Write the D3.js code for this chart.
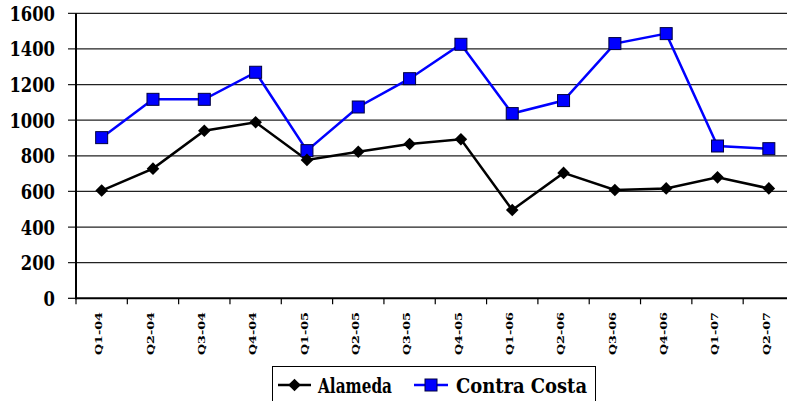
<!DOCTYPE html>
<html>
<head>
<meta charset="utf-8">
<script src="https://cdn.jsdelivr.net/npm/d3@7/dist/d3.min.js"></script>
<style>
  html, body { margin: 0; padding: 0; background: #fff; }
  svg { display: block; }
</style>
</head>
<body>
<svg id="chart" width="787" height="401"></svg>
<script>
const categories = ["Q1-04","Q2-04","Q3-04","Q4-04","Q1-05","Q2-05","Q3-05","Q4-05","Q1-06","Q2-06","Q3-06","Q4-06","Q1-07","Q2-07"];
const alameda = [605, 728, 941, 988, 777, 823, 866, 893, 496, 704, 608, 617, 679, 617];
const contraCosta = [902, 1117, 1117, 1269, 829, 1074, 1233, 1426, 1037, 1110, 1430, 1486, 855, 840];
const yTicks = [0, 200, 400, 600, 800, 1000, 1200, 1400, 1600];
const seriesNames = ["Alameda", "Contra Costa"];

(function () {
const FONT = "DejaVu Serif";
const svg = d3.select("#chart");
const pLeft = 76, pRight = 794.5, pTop = 13.3, pBottom = 298.3;

const x = d3.scaleBand().domain(categories).range([pLeft, pRight]).padding(0);
const y = d3.scaleLinear().domain([0, 1600]).range([pBottom, pTop]);

svg.append("g").selectAll("line").data(yTicks.filter(d => d > 0)).join("line")
  .attr("x1", pLeft - 8).attr("x2", 787)
  .attr("y1", d => y(d)).attr("y2", d => y(d))
  .attr("stroke", "#222").attr("stroke-width", 1.2);

svg.append("g").selectAll("text").data(yTicks).join("text")
  .attr("x", 55).attr("y", d => y(d) + 7.5)
  .attr("text-anchor", "end")
  .attr("textLength", d => String(d).length * 11.4).attr("lengthAdjust", "spacingAndGlyphs")
  .style("font-family", FONT).style("font-weight", "bold").style("font-size", "21px")
  .text(d => d);

svg.append("line").attr("x1", pLeft - 8).attr("x2", pLeft).attr("y1", y(0)).attr("y2", y(0))
  .attr("stroke", "#000").attr("stroke-width", 1.2);

const bounds = categories.map(c => x(c)).concat([x(categories[categories.length-1]) + x.bandwidth()]);
svg.append("g").selectAll("line").data(bounds).join("line")
  .attr("x1", d => d).attr("x2", d => d)
  .attr("y1", pBottom).attr("y2", pBottom + 6)
  .attr("stroke", "#000").attr("stroke-width", 1.2);

svg.append("line").attr("x1", pLeft).attr("x2", pLeft).attr("y1", pTop).attr("y2", pBottom + 1)
  .attr("stroke", "#000").attr("stroke-width", 2);
svg.append("line").attr("x1", pLeft - 1).attr("x2", 787).attr("y1", pBottom).attr("y2", pBottom)
  .attr("stroke", "#000").attr("stroke-width", 2);

svg.append("g").selectAll("text").data(categories).join("text")
  .attr("transform", d => `translate(${x(d) + x.bandwidth()/2 + 0.8},312) rotate(-90)`)
  .attr("text-anchor", "end")
  .attr("textLength", 43).attr("lengthAdjust", "spacingAndGlyphs")
  .style("font-family", FONT).style("font-weight", "bold").style("font-size", "10px")
  .text(d => d);

const cx = d => x(d) + x.bandwidth()/2;
const line = d3.line().x((d, i) => cx(categories[i])).y(d => y(d));

svg.append("path").datum(contraCosta).attr("d", line)
  .attr("fill", "none").attr("stroke", "#0000FF").attr("stroke-width", 2.5);
svg.append("path").datum(alameda).attr("d", line)
  .attr("fill", "none").attr("stroke", "#000").attr("stroke-width", 2.5);

const diamond = s => `M0,${-s} L${s},0 L0,${s} L${-s},0 Z`;

svg.append("g").selectAll("rect").data(contraCosta).join("rect")
  .attr("x", (d, i) => cx(categories[i]) - 6).attr("y", d => y(d) - 6)
  .attr("width", 12).attr("height", 12)
  .attr("fill", "#0000FF").attr("stroke", "#000040").attr("stroke-width", 1);

svg.append("g").selectAll("path").data(alameda).join("path")
  .attr("transform", (d, i) => `translate(${cx(categories[i])},${y(d)})`)
  .attr("d", diamond(6.3))
  .attr("fill", "#000");

const lg = svg.append("g");
lg.append("rect").attr("x", 272.5).attr("y", 366.5).attr("width", 323).attr("height", 50)
  .attr("fill", "#fff").attr("stroke", "#000").attr("stroke-width", 1);
lg.append("line").attr("x1", 278).attr("x2", 311).attr("y1", 385).attr("y2", 385)
  .attr("stroke", "#000").attr("stroke-width", 2.5);
lg.append("path").attr("transform", "translate(294.5,385)").attr("d", diamond(6.3)).attr("fill", "#000");
lg.append("text").attr("x", 318).attr("y", 392.5)
  .attr("textLength", 74).attr("lengthAdjust", "spacingAndGlyphs")
  .style("font-family", FONT).style("font-weight", "bold").style("font-size", "21px")
  .text(seriesNames[0]);
lg.append("line").attr("x1", 414).attr("x2", 448).attr("y1", 385).attr("y2", 385)
  .attr("stroke", "#0000FF").attr("stroke-width", 2.5);
lg.append("rect").attr("x", 425).attr("y", 379).attr("width", 12).attr("height", 12)
  .attr("fill", "#0000FF").attr("stroke", "#000040").attr("stroke-width", 1);
lg.append("text").attr("x", 456).attr("y", 392.5)
  .attr("textLength", 131).attr("lengthAdjust", "spacingAndGlyphs")
  .style("font-family", FONT).style("font-weight", "bold").style("font-size", "21px")
  .text(seriesNames[1]);
})();
</script>
</body>
</html>
